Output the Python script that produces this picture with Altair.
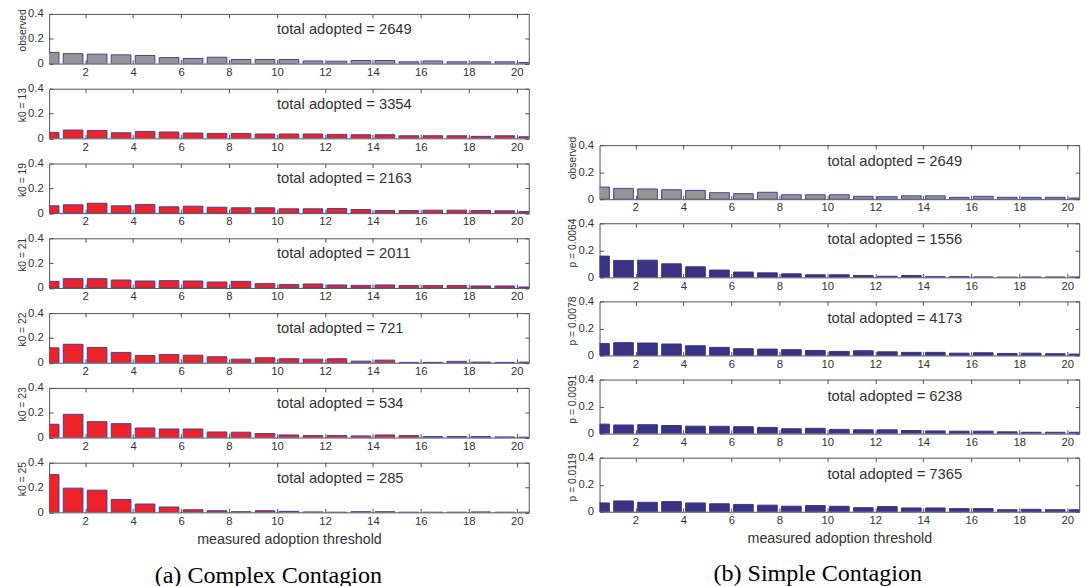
import altair as alt
import pandas as pd

thresholds = [0.5, 1.5, 2.5, 3.5, 4.5, 5.5, 6.5, 7.5, 8.5, 9.5, 10.5,
              11.5, 12.5, 13.5, 14.5, 15.5, 16.5, 17.5, 18.5, 19.5, 20.5]

observed = [0.09, 0.08, 0.076, 0.07, 0.065, 0.048, 0.041, 0.051, 0.033, 0.033, 0.033,
            0.021, 0.019, 0.025, 0.025, 0.014, 0.021, 0.014, 0.014, 0.014, 0.009]
k13 = [0.048, 0.067, 0.064, 0.045, 0.056, 0.051, 0.043, 0.040, 0.040, 0.035, 0.035,
       0.035, 0.032, 0.029, 0.029, 0.021, 0.021, 0.021, 0.016, 0.021, 0.013]
k19 = [0.059, 0.067, 0.08, 0.059, 0.069, 0.051, 0.056, 0.048, 0.043, 0.043, 0.035,
       0.035, 0.037, 0.029, 0.021, 0.021, 0.024, 0.024, 0.021, 0.019, 0.013]
k21 = [0.053, 0.075, 0.075, 0.064, 0.056, 0.059, 0.056, 0.048, 0.053, 0.035, 0.027,
       0.032, 0.024, 0.021, 0.024, 0.019, 0.019, 0.019, 0.016, 0.016, 0.008]
k22 = [0.12, 0.149, 0.123, 0.083, 0.059, 0.067, 0.061, 0.048, 0.029, 0.04, 0.032,
       0.029, 0.032, 0.013, 0.021, 0.003, 0.003, 0.011, 0.005, 0.003, 0.005]
k23 = [0.107, 0.187, 0.128, 0.112, 0.077, 0.069, 0.069, 0.045, 0.043, 0.032, 0.021,
       0.016, 0.016, 0.013, 0.021, 0.016, 0.008, 0.008, 0.008, 0.005, 0.003]
k25 = [0.304, 0.195, 0.179, 0.104, 0.067, 0.043, 0.021, 0.013, 0.005, 0.013, 0.008,
       0.003, 0.0, 0.005, 0.005, 0.0, 0.0, 0.0, 0.003, 0.0, 0.0]

p0064 = [0.157, 0.125, 0.127, 0.1, 0.078, 0.054, 0.039, 0.033, 0.026, 0.019, 0.019,
         0.013, 0.008, 0.013, 0.005, 0.005, 0.003, 0.001, 0.002, 0.002, 0.002]
p0078 = [0.088, 0.095, 0.092, 0.085, 0.072, 0.06, 0.05, 0.047, 0.043, 0.037, 0.03,
         0.035, 0.027, 0.023, 0.023, 0.017, 0.02, 0.015, 0.017, 0.013, 0.01]
p0091 = [0.07, 0.064, 0.066, 0.06, 0.055, 0.054, 0.051, 0.046, 0.036, 0.039, 0.031,
         0.028, 0.028, 0.023, 0.02, 0.018, 0.018, 0.013, 0.01, 0.01, 0.01]
p0119 = [0.065, 0.08, 0.07, 0.075, 0.065, 0.059, 0.054, 0.049, 0.041, 0.046, 0.04,
         0.03, 0.038, 0.028, 0.028, 0.023, 0.023, 0.015, 0.018, 0.015, 0.015]

left_series = [observed, k13, k19, k21, k22, k23, k25]
left_labels = ["observed", "k0 = 13", "k0 = 19", "k0 = 21", "k0 = 22", "k0 = 23", "k0 = 25"]
left_totals = [2649, 3354, 2163, 2011, 721, 534, 285]

right_series = [observed, p0064, p0078, p0091, p0119]
right_labels = ["observed", "p = 0.0064", "p = 0.0078", "p = 0.0091", "p = 0.0119"]
right_totals = [2649, 1556, 4173, 6238, 7365]

x_ticks = [2, 4, 6, 8, 10, 12, 14, 16, 18, 20]
y_ticks = [0, 0.2, 0.4]
x_title = "measured adoption threshold"
captions = ["(a) Complex Contagion", "(b) Simple Contagion"]

GRAY = "#959595"
RED = "#ec2329"
NAVY = "#3a3384"
EDGE = "#3f3f9e"
FRAME = "#505050"
TXT = "#333333"
FONT = "Liberation Sans"
W = 488


def panel(values, label, total, fill, edge, h, last, title_shift):
    df = pd.DataFrame({"t": thresholds, "v": values})
    xs = alt.Scale(domain=[0.5, 20.5], nice=False, zero=False)
    ys = alt.Scale(domain=[0, 0.4], nice=False, zero=False)
    base = alt.Chart(df).transform_calculate(x0="datum.t - 0.41", x1="datum.t + 0.41")
    bars = base.mark_bar(fill=fill, stroke=edge, strokeWidth=1, clip=True).encode(
        x=alt.X("x0:Q", scale=xs, axis=alt.Axis(
            orient="bottom", values=x_ticks, offset=-4, tickSize=4, domain=False,
            grid=False, labelPadding=3, labelFont=FONT, labelFontSize=11.5,
            labelColor=TXT, tickColor=FRAME,
            title=x_title if last else "", titleFont=FONT, titleFontSize=14.5,
            titleFontWeight="normal", titleColor=TXT, titlePadding=6)),
        x2="x1:Q",
        y=alt.Y("v:Q", scale=ys, axis=alt.Axis(
            orient="left", values=y_ticks, offset=-4, tickSize=4, domain=False,
            grid=False, labelPadding=6, labelFont=FONT, labelFontSize=11.5,
            labelColor=TXT, tickColor=FRAME,
            labelExpr="datum.value == 0 ? '0' : format(datum.value, '.1f')",
            title=label, titleFont=FONT, titleFontSize=10.5,
            titleFontWeight="normal", titleColor=TXT, titlePadding=0,
            titleY=h / 2 + title_shift)),
        y2=alt.datum(0),
    )
    ticks = base.mark_bar(opacity=0).encode(
        x=alt.X("x0:Q", scale=xs, axis=alt.Axis(
            orient="top", values=x_ticks, offset=-4, tickSize=4, domain=False,
            grid=False, labels=False, tickColor=FRAME, title="")),
        x2="x1:Q",
        y=alt.Y("v:Q", scale=ys, axis=alt.Axis(
            orient="right", values=y_ticks, offset=-4, tickSize=4, domain=False,
            grid=False, labels=False, tickColor=FRAME, title="")),
        y2=alt.datum(0),
    )
    tdf = pd.DataFrame({"x": [10], "y": [0.28], "s": [f"total adopted = {total}"]})
    text = alt.Chart(tdf).mark_text(
        align="left", baseline="middle", font=FONT, fontSize=15, color=TXT
    ).encode(
        x=alt.X("x:Q", scale=xs, axis=None),
        y=alt.Y("y:Q", scale=ys, axis=None),
        text="s:N",
    )
    return alt.layer(bars, ticks, text).resolve_axis(
        x="independent", y="independent"
    ).properties(width=W, height=h)


def caption(s, xc, yc):
    cdf = pd.DataFrame({"c": [s]})
    return alt.Chart(cdf).mark_text(
        font="Liberation Serif", fontSize=24.5, color="black", baseline="middle"
    ).encode(
        x=alt.value(xc), y=alt.value(yc), text="c:N"
    ).properties(width=W, height=20, view=alt.ViewBackground(strokeOpacity=0))


left_panels = []
for i, (vals, lab, tot) in enumerate(zip(left_series, left_labels, left_totals)):
    fill = GRAY if i == 0 else RED
    left_panels.append(panel(vals, lab, tot, fill, EDGE, 50.5,
                             i == len(left_series) - 1, -9))
left_panels.append(caption(captions[0], 223, 39))

spacer = alt.Chart(pd.DataFrame({"c": [""]})).mark_text().encode(
    x=alt.value(0), y=alt.value(0), text="c:N"
).properties(width=W, height=108.5, view=alt.ViewBackground(strokeOpacity=0))

right_panels = [spacer]
for i, (vals, lab, tot) in enumerate(zip(right_series, right_labels, right_totals)):
    fill = GRAY if i == 0 else NAVY
    edge = EDGE if i == 0 else NAVY
    right_panels.append(panel(vals, lab, tot, fill, edge, 55,
                              i == len(right_series) - 1, -15 if i == 0 else -8))
right_panels.append(caption(captions[1], 222, 39))

left_col = alt.vconcat(*left_panels, spacing=25.1, bounds="flush")
right_col = alt.vconcat(*right_panels, spacing=24.5, bounds="flush")

# nested flush concat reports (almost) no width, so the column gap includes the panel width
chart = alt.hconcat(left_col, right_col, spacing=W + 72, bounds="flush").properties(
    padding={"left": 17, "top": 2, "right": 0, "bottom": 0},
    background="white",
).configure_view(stroke=FRAME, strokeWidth=1)

chart.save("out.html", embed_options={"renderer": "svg", "actions": False})
